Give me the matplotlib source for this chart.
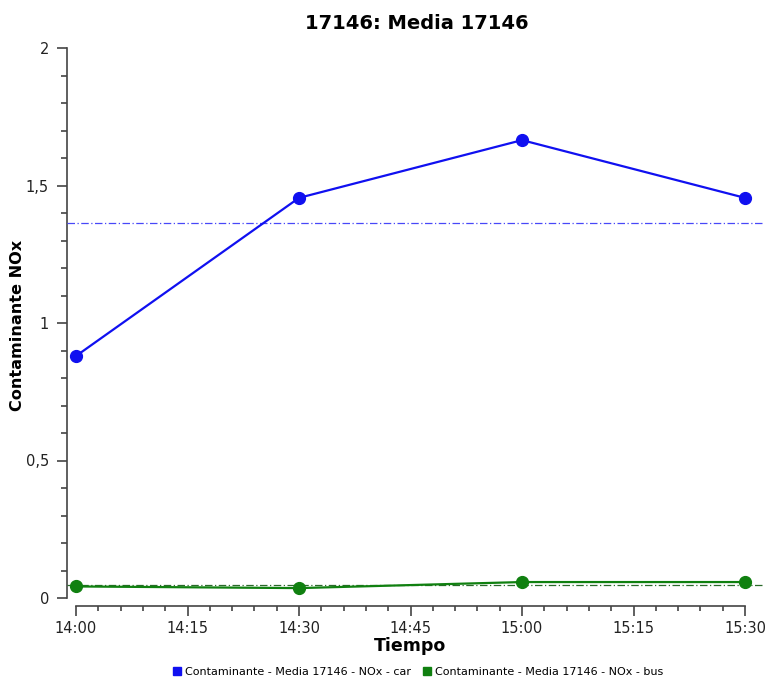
import matplotlib
matplotlib.use("Agg")
import matplotlib.pyplot as plt
import matplotlib.dates as mdates
from matplotlib.ticker import FuncFormatter, MultipleLocator
from matplotlib.lines import Line2D
import numpy as np
import datetime as dt

# Time stamps and NOx values per vehicle class
times = ["14:00", "14:30", "15:00", "15:30"]
nox_car = [0.88, 1.455, 1.665, 1.455]
nox_bus = [0.042, 0.036, 0.058, 0.058]
series_labels = ["Contaminante - Media 17146 - NOx - car",
                 "Contaminante - Media 17146 - NOx - bus"]
y_ticks = [0, 0.5, 1, 1.5, 2]
title = "17146: Media 17146"

x = [dt.datetime(2020, 1, 1, int(t[:2]), int(t[3:])) for t in times]

W, H = 766, 679
fig = plt.figure(figsize=(W / 100, H / 100), dpi=100)
ax = fig.add_axes([76 / W, 1 - 598 / H, (745 - 76) / W, (598 - 48) / H])

blue = "#1010f0"
green = "#108010"

ax.plot(x, nox_car, color=blue, lw=1.6, marker="o", ms=8.5, zorder=4, clip_on=False)
ax.plot(x, nox_bus, color=green, lw=1.6, marker="o", ms=8.5, zorder=4, clip_on=False)

# Average lines spanning past the axes
ext_l = -9 / (745 - 76)
ext_r = (762 - 76) / (745 - 76)
ax.axhline(np.mean(nox_car), xmin=ext_l, xmax=ext_r, color="#4848f8", lw=0.9,
           ls=(0, (6, 2, 1, 2)), clip_on=False, zorder=3)
ax.axhline(np.mean(nox_bus), xmin=ext_l, xmax=ext_r, color="#2a6a2a", lw=0.9,
           ls=(0, (6, 2, 1, 2)), clip_on=False, zorder=3)

ax.set_xlim(x[0], x[-1])
ax.set_ylim(0, 2)

for s in ["top", "right"]:
    ax.spines[s].set_visible(False)
ax.spines["left"].set_position(("outward", 6.5))
ax.spines["bottom"].set_position(("outward", 6))
for s in ["left", "bottom"]:
    ax.spines[s].set_color("#444444")
    ax.spines[s].set_linewidth(1.2)

ax.set_yticks(y_ticks)
ax.yaxis.set_minor_locator(MultipleLocator(0.1))
ax.yaxis.set_major_formatter(FuncFormatter(lambda v, p: f"{v:g}".replace(".", ",")))
ax.xaxis.set_major_locator(mdates.MinuteLocator(byminute=[0, 15, 30, 45]))
ax.xaxis.set_minor_locator(mdates.MinuteLocator(byminute=range(0, 60, 3)))
ax.xaxis.set_major_formatter(mdates.DateFormatter("%H:%M"))

ax.tick_params(axis="both", which="major", colors="#444444", labelcolor="#222222",
               labelsize=10.5, width=1.2)
ax.tick_params(axis="y", which="major", length=7, pad=6)
ax.tick_params(axis="y", which="minor", length=4, width=1.2, colors="#444444")
ax.tick_params(axis="x", which="major", length=7)
ax.tick_params(axis="x", which="minor", length=3.5, width=1.2, colors="#444444")

ax.set_title(title, fontsize=14, fontweight="bold", pad=14, x=0.51)
ax.set_xlabel("Tiempo", fontsize=12.5, fontweight="bold", labelpad=1)
ax.set_ylabel("Contaminante NOx", fontsize=11.6, fontweight="bold")
ax.yaxis.set_label_coords(-0.076, 0.496)

handles = [Line2D([], [], ls="none", marker="s", ms=6, color=blue),
           Line2D([], [], ls="none", marker="s", ms=6, color=green)]
fig.legend(handles, series_labels, loc="center", bbox_to_anchor=(0.545, 1 - 672 / H),
           ncol=2, frameon=False, fontsize=8, handletextpad=0.2, columnspacing=1.0,
           handlelength=1.0)

fig.savefig("out.png", dpi=100)
